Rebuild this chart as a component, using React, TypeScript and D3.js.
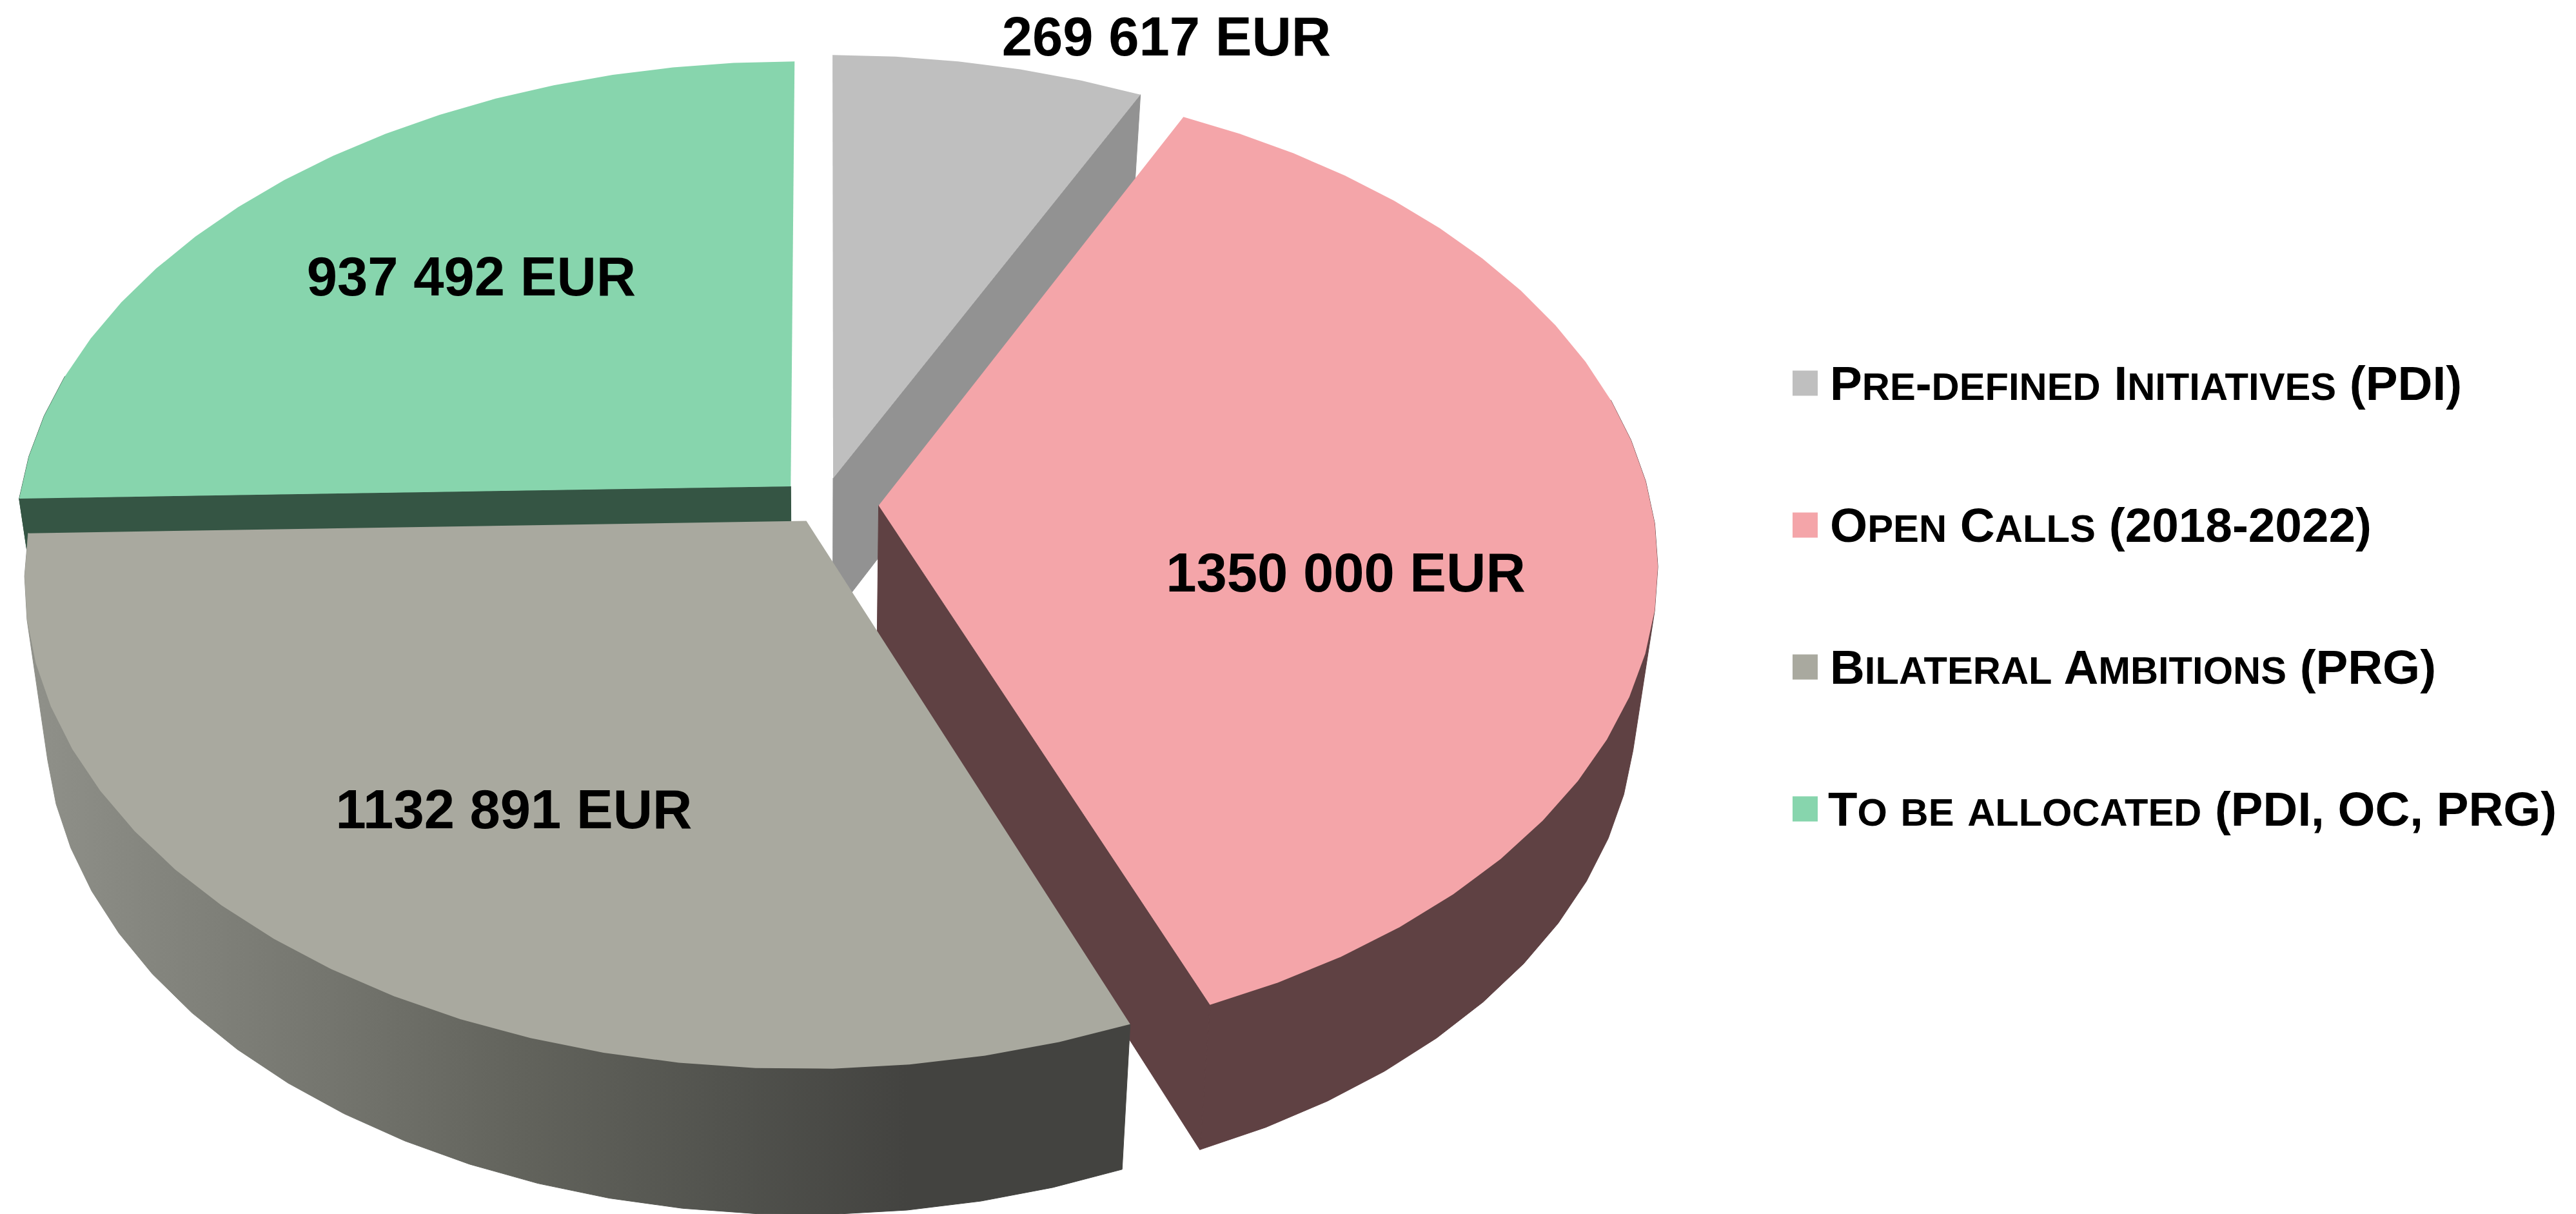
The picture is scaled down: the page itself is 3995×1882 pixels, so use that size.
import React from "react";
import * as d3 from "d3";

const categories = ["Pre-defined Initiatives (PDI)", "Open Calls (2018-2022)", "Bilateral Ambitions (PRG)", "To be allocated (PDI, OC, PRG)"];
const amounts = [269617, 1350000, 1132891, 937492];
const amountLabels = ["269 617 EUR", "1350 000 EUR", "1132 891 EUR", "937 492 EUR"];
const topColors = ["#bfbfbf", "#f4a5a9", "#a9a99f", "#87d5ad"];
const sideColors = ["#929292", "#5f4143", "url(#bilateralSide)", "#355544"];

const W = 3995, H = 1882;
// Perspective plane: unit-circle coordinates to screen.
const cx = 1283, cy = 774, A = 1197, B = 741, k = 0.118;
const project = (u: number, v: number): [number, number] => {
  const d = 1 - k * v;
  return [cx + (A * u) / d, cy + (B * v) / d];
};
// Extrusion downwards, converging slightly towards a nadir.
const lower = ([x, y]: [number, number]): [number, number] => [
  x - (x - 1270) * 0.026,
  y + 215 + (y - 740) * 0.0118,
];
// Explosion of each slice in plane units.
const offsets: [number, number][] = [
  [0.0076, -0.044],
  [0.0664, 0.013],
  [-0.027, 0.045],
  [-0.0475, -0.027],
];
const labelPos: [number, number][] = [[1809, 56], [2087, 887], [797, 1254], [731, 428]];
const swatchX = 2780, swatchSize = 39, legendY0 = 594, legendStep = 220;
const legendStarts = [2838, 2838, 2838, 2835];
const legendWidths = [980, 840, 940, 1130];

const pieGen = d3.pie<number>().sort(null).value((d) => d);
const arcs = pieGen(amounts);
const line = d3.line<[number, number]>().curve(d3.curveLinear);
const STEP = (5 * Math.PI) / 180;

function rimAngles(a0: number, a1: number): number[] {
  const n = Math.max(1, Math.round((a1 - a0) / STEP));
  return d3.range(n + 1).map((i) => a0 + ((a1 - a0) * i) / n);
}

function Slice({ i }: { i: number }) {
  const a = arcs[i];
  const [du, dv] = offsets[i];
  const pt = (r: number, t: number) => project(du + r * Math.sin(t), dv - r * Math.cos(t));
  const apex = pt(0, 0);
  const angles = rimAngles(a.startAngle, a.endAngle);
  const rim = angles.map((t) => pt(1, t));
  const top = [apex, ...rim];
  const lowApex = lower(apex);
  // Swept rim: silhouette of the viewer-facing part of the top rim and its lowered copy.
  const front = angles.filter((t) => Math.cos(t) < 0.25).map((t) => pt(1, t));
  const hull = front.length > 1 ? (d3.polygonHull([...front, ...front.map(lower)]) as [number, number][]) : null;
  const first = rim[0];
  const last = rim[rim.length - 1];
  // A radial wall is drawn only if its normal points towards the viewer.
  const walls: [number, number][][] = [];
  if (-Math.cos(a.startAngle - Math.PI / 2) > 0.01) walls.push([apex, first, lower(first), lowApex]);
  if (-Math.cos(a.endAngle + Math.PI / 2) > 0.01) walls.push([apex, last, lower(last), lowApex]);
  const faces = hull ? [hull, ...walls] : walls;
  return (
    <g>
      {faces.map((f, j) => (
        <path key={j} d={line(f) + "Z"} fill={sideColors[i]} stroke={sideColors[i]} strokeWidth={1} />
      ))}
      <path d={line(top) + "Z"} fill={topColors[i]} />
    </g>
  );
}

function SmallCaps({ text, x, y, width }: { text: string; x: number; y: number; width: number }) {
  const runs: { s: string; small: boolean }[] = [];
  for (const ch of text) {
    const small = ch >= "a" && ch <= "z";
    const last = runs[runs.length - 1];
    if (last && last.small === small) last.s += ch.toUpperCase();
    else runs.push({ s: ch.toUpperCase(), small });
  }
  return (
    <text x={x} y={y} fontFamily="'Liberation Sans', Arial, sans-serif" fontWeight="700" fill="#000" textLength={width} lengthAdjust="spacingAndGlyphs">
      {runs.map((r, i) => (
        <tspan key={i} fontSize={r.small ? 60 : 75}>{r.s}</tspan>
      ))}
    </text>
  );
}

const drawOrder = [0, 1, 3, 2];

export default function App() {
  return (
    <svg width={W} height={H} viewBox={`0 0 ${W} ${H}`} style={{ position: "absolute", left: 0, top: 0, display: "block" }}>
      <rect width={W} height={H} fill="#ffffff" />
      <defs>
        <linearGradient id="bilateralSide" gradientUnits="userSpaceOnUse" x1="40" y1="0" x2="1750" y2="0">
          <stop offset="0" stopColor="#90918a" />
          <stop offset="0.21" stopColor="#7b7c75" />
          <stop offset="0.45" stopColor="#62635c" />
          <stop offset="0.63" stopColor="#52534e" />
          <stop offset="0.8" stopColor="#434340" />
          <stop offset="1" stopColor="#434340" />
        </linearGradient>
      </defs>
      {drawOrder.map((i) => <Slice key={i} i={i} />)}
      {amountLabels.map((t, i) => (
        <text key={t} x={labelPos[i][0]} y={labelPos[i][1]} textAnchor="middle" dominantBaseline="central" fontFamily="'Liberation Sans', Arial, sans-serif" fontWeight="700" fontSize={85} fill="#000">{t}</text>
      ))}
      {categories.map((c, i) => {
        const yc = legendY0 + i * legendStep;
        return (
          <g key={c}>
            <rect x={swatchX} y={yc - swatchSize / 2} width={swatchSize} height={swatchSize} fill={topColors[i]} />
            <SmallCaps text={c} x={legendStarts[i]} y={yc + 26} width={legendWidths[i]} />
          </g>
        );
      })}
    </svg>
  );
}
